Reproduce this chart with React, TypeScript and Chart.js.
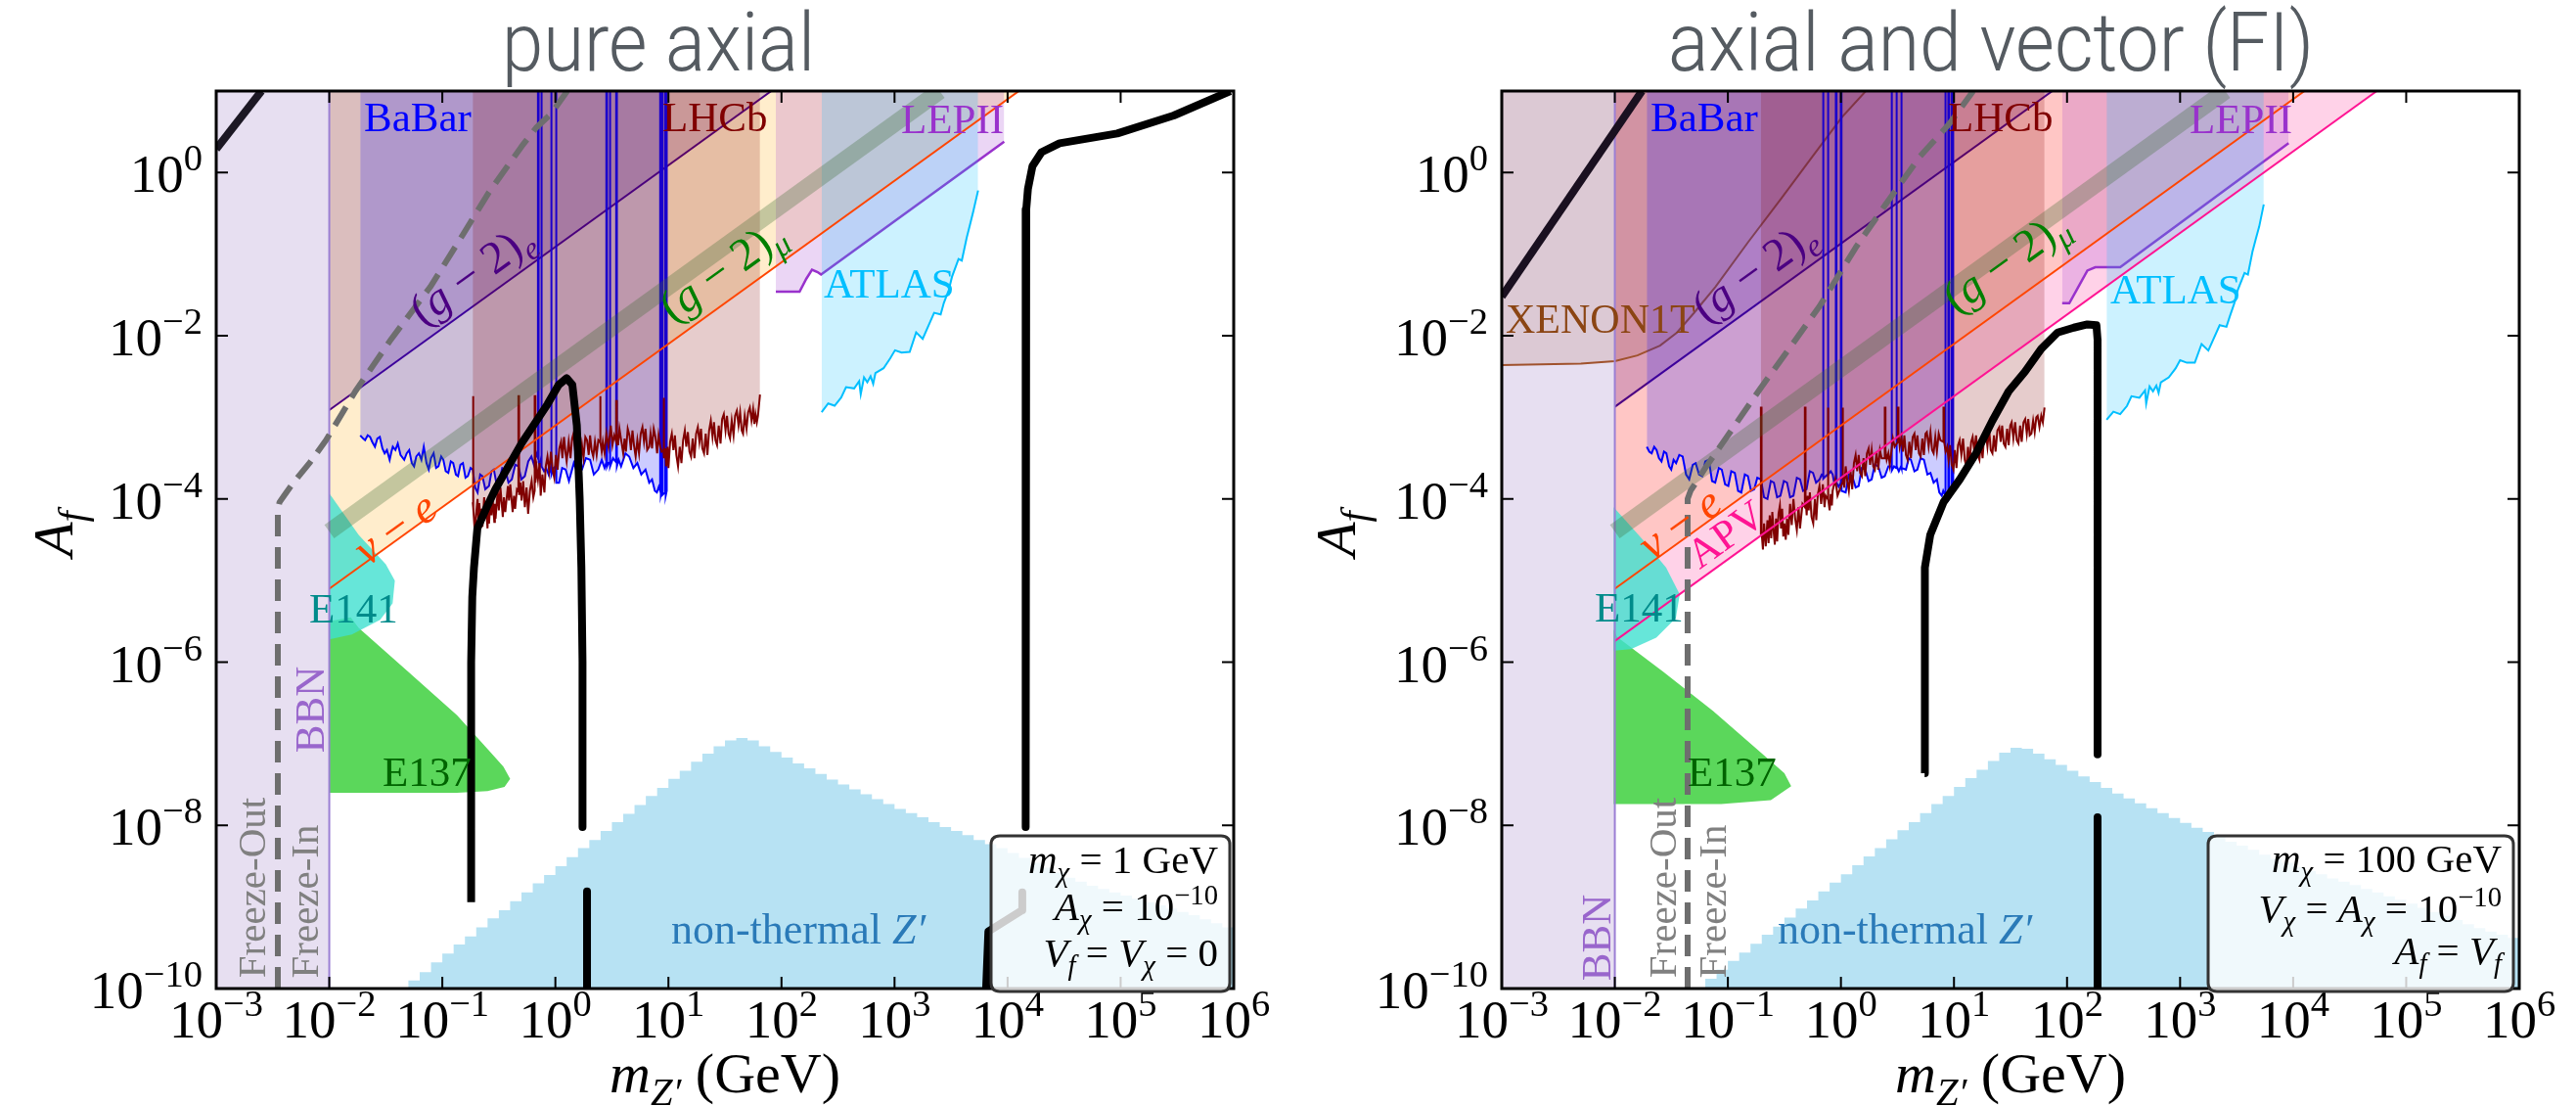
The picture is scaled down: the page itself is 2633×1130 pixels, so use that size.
import React, { useEffect, useRef } from "react";
import { Chart, registerables } from "chart.js";

Chart.register(...registerables);

type Pair = [number, number];

// ---------------- axes (log10 exponents) ----------------
const X_MIN = 1e-3;
const X_MAX = 1e6;
const Y_MIN = 1e-10;
const Y_MAX = 10;
const X_TICK_EXP = [-3, -2, -1, 0, 1, 2, 3, 4, 5, 6];
const Y_TICK_EXP = [-10, -8, -6, -4, -2, 0];

// ---------------- data: [log10 m_Z', log10 A_f] ----------------
const BBN_COL: Pair[] = [[-3, -10], [-2, -10]];
const BBN_EDGE: Pair[] = [[-2, -10], [-2, 1]];
const NUE_LINE: Pair[] = [[-2, -5.1], [4.1, 1]];
const G2MU_BAND: Pair[] = [[-2, -4.4], [3.4, 1]];
const L_G2E: Pair[] = [[-2, -2.91], [1.91, 1]];
const R_G2E: Pair[] = [[-2, -2.87], [1.87, 1]];
const R_APV: Pair[] = [[-2, -5.74], [4.74, 1]];

const L_LEP: Pair[] = [[1.95, -1.46], [2.16, -1.46], [2.22, -1.3], [2.27, -1.19], [2.32, -1.22], [2.35, -1.25], [3.97, 0.38]];
const R_LEP: Pair[] = [[1.957, -1.6], [2.02, -1.6], [2.1, -1.4], [2.18, -1.2], [2.25, -1.16], [2.47, -1.16], [3.96, 0.36]];

const L_ATLAS: Pair[] = [
  [2.355, -2.937], [2.413, -2.829], [2.47, -2.857], [2.528, -2.757], [2.571, -2.629], [2.643, -2.645], [2.687, -2.557],
  [2.701, -2.717], [2.73, -2.509], [2.759, -2.569], [2.788, -2.497], [2.811, -2.589], [2.831, -2.457], [2.903, -2.397],
  [2.961, -2.277], [3.004, -2.177], [3.062, -2.205], [3.134, -2.197], [3.191, -1.958], [3.249, -2.038], [3.35, -1.718],
  [3.408, -1.738], [3.436, -1.598], [3.48, -1.438], [3.508, -1.278], [3.566, -1.058], [3.595, -1.078], [3.638, -0.799],
  [3.667, -0.639], [3.696, -0.479], [3.739, -0.219],
];
const R_ATLAS: Pair[] = [
  [2.35, -3.03], [2.41, -2.93], [2.47, -2.96], [2.53, -2.86], [2.57, -2.74], [2.64, -2.76], [2.69, -2.67], [2.7, -2.83],
  [2.73, -2.62], [2.76, -2.68], [2.79, -2.61], [2.81, -2.7], [2.83, -2.57], [2.9, -2.51], [2.96, -2.4], [3.0, -2.3],
  [3.06, -2.33], [3.13, -2.33], [3.19, -2.1], [3.25, -2.18], [3.35, -1.87], [3.41, -1.89], [3.44, -1.76], [3.48, -1.6],
  [3.51, -1.44], [3.57, -1.23], [3.6, -1.25], [3.64, -0.97], [3.67, -0.81], [3.7, -0.66], [3.74, -0.39],
];

const L_BABAR: Pair[] = [
  [-1.726, -3.22], [-1.7, -3.26], [-1.683, -3.28], [-1.66, -3.22], [-1.639, -3.24], [-1.62, -3.3], [-1.596, -3.36], [-1.575, -3.26],
  [-1.553, -3.24], [-1.53, -3.38], [-1.51, -3.44], [-1.49, -3.4], [-1.466, -3.52], [-1.45, -3.42], [-1.438, -3.36], [-1.415, -3.4],
  [-1.394, -3.32], [-1.37, -3.46], [-1.337, -3.52], [-1.315, -3.44], [-1.293, -3.4], [-1.27, -3.56], [-1.25, -3.6], [-1.23, -3.48],
  [-1.207, -3.44], [-1.185, -3.52], [-1.164, -3.36], [-1.14, -3.56], [-1.12, -3.64], [-1.1, -3.5], [-1.077, -3.44], [-1.055, -3.62],
  [-1.034, -3.6], [-1.01, -3.48], [-0.991, -3.52], [-0.97, -3.66], [-0.947, -3.68], [-0.925, -3.54], [-0.904, -3.56], [-0.88, -3.7],
  [-0.861, -3.72], [-0.84, -3.58], [-0.818, -3.56], [-0.795, -3.74], [-0.774, -3.72], [-0.75, -3.62], [-0.731, -3.64], [-0.71, -3.86],
  [-0.688, -3.92], [-0.665, -3.7], [-0.645, -3.72], [-0.62, -3.88], [-0.587, -3.84], [-0.565, -3.66], [-0.544, -3.64], [-0.52, -3.82],
  [-0.5, -3.8], [-0.47, -3.62], [-0.443, -3.64], [-0.415, -3.8], [-0.385, -3.76], [-0.355, -3.58], [-0.327, -3.6], [-0.3, -3.76],
  [-0.27, -3.72], [-0.24, -3.54], [-0.212, -3.48], [-0.19, -3.58], [-0.169, -3.44],
  [-0.154, -3.5], [-0.154, 1], [-0.148, 1], [-0.148, -3.55], [-0.137, -3.6],
  [-0.126, -3.5], [-0.126, 1], [-0.12, 1], [-0.12, -3.6], [-0.1, -3.66], [-0.082, -3.62], [-0.06, -3.7],
  [-0.039, -3.6], [-0.039, 1], [-0.033, 1], [-0.033, -3.7], [-0.015, -3.62],
  [0.004, -3.6], [0.004, 1], [0.01, 1], [0.01, -3.8],
  [0.033, -3.8], [0.06, -3.62], [0.091, -3.64], [0.12, -3.78], [0.163, -3.56], [0.2, -3.7], [0.235, -3.64], [0.27, -3.5],
  [0.307, -3.52], [0.34, -3.7], [0.379, -3.64], [0.41, -3.52], [0.435, -3.62],
  [0.451, -3.55], [0.451, 1], [0.457, 1], [0.457, -3.6], [0.468, -3.56],
  [0.48, -3.55], [0.48, 1], [0.486, 1], [0.486, -3.6], [0.51, -3.5],
  [0.538, -3.55], [0.538, 1], [0.544, 1], [0.544, -3.6],
  [0.56, -3.52], [0.581, -3.6], [0.62, -3.44], [0.653, -3.48], [0.69, -3.62], [0.725, -3.56], [0.76, -3.7], [0.797, -3.64],
  [0.83, -3.8], [0.855, -3.76], [0.88, -3.9], [0.898, -3.92], [0.915, -3.85],
  [0.927, -3.9], [0.927, 1], [0.933, 1], [0.933, -3.95], [0.941, -3.9], [0.941, 1], [0.947, 1], [0.947, -3.95],
  [0.97, -3.92], [0.97, 1], [0.976, 1], [0.976, -3.96], [0.985, -3.9], [0.985, 1],
];

const L_LHCB: Pair[] = [
  [-0.731, -4.04], [-0.731, -2.74], [-0.725, -2.74], [-0.725, -4.1], [-0.712, -4.42], [-0.702, -4.2], [-0.688, -4.0], [-0.68, -4.38],
  [-0.673, -4.05], [-0.66, -4.3], [-0.652, -4.12], [-0.645, -4.34], [-0.63, -3.98], [-0.622, -4.22], [-0.616, -4.06], [-0.6, -4.36],
  [-0.594, -4.1], [-0.587, -4.3], [-0.572, -3.98], [-0.565, -4.2], [-0.558, -3.94], [-0.54, -4.28], [-0.535, -4.06], [-0.529, -4.24],
  [-0.51, -3.9], [-0.5, -4.14], [-0.486, -3.86], [-0.465, -4.22], [-0.455, -3.98], [-0.443, -4.16], [-0.42, -3.84], [-0.41, -4.02],
  [-0.399, -3.82], [-0.378, -4.16], [-0.366, -3.96], [-0.356, -4.12], [-0.34, -3.88],
  [-0.327, -3.9], [-0.327, -2.74], [-0.321, -2.74], [-0.321, -3.95],
  [-0.31, -3.8], [-0.299, -4.02], [-0.285, -3.78], [-0.27, -4.1], [-0.255, -3.86], [-0.241, -4.18], [-0.225, -3.9], [-0.21, -3.78], [-0.195, -3.98],
  [-0.183, -3.9], [-0.183, -2.74], [-0.177, -2.74], [-0.177, -3.8],
  [-0.165, -3.62], [-0.154, -3.76], [-0.14, -3.56], [-0.13, -3.96], [-0.115, -3.7], [-0.097, -3.92], [-0.085, -3.6], [-0.07, -3.48],
  [-0.055, -3.66], [-0.039, -3.42], [-0.025, -3.64], [-0.01, -3.74], [0.005, -3.46], [0.019, -3.64], [0.035, -3.38], [0.05, -3.3],
  [0.062, -3.5], [0.076, -3.24], [0.09, -3.44], [0.1, -3.54], [0.118, -3.3], [0.134, -3.5], [0.148, -3.26], [0.16, -3.2],
  [0.176, -3.42], [0.192, -3.18], [0.205, -3.38], [0.22, -3.54], [0.235, -3.34], [0.249, -3.5], [0.265, -3.24], [0.28, -3.28],
  [0.295, -3.46], [0.307, -3.22], [0.32, -3.4], [0.335, -3.48], [0.35, -3.3], [0.365, -3.46], [0.38, -3.28],
  [0.394, -3.3], [0.394, -2.74], [0.4, -2.74], [0.4, -3.3],
  [0.41, -3.42], [0.42, -3.3], [0.435, -3.44], [0.451, -3.2], [0.47, -3.36], [0.49, -3.1], [0.505, -3.34], [0.52, -3.22],
  [0.538, -3.3], [0.538, -2.8], [0.544, -2.8], [0.544, -3.2],
  [0.555, -3.34], [0.567, -3.14], [0.584, -3.3], [0.6, -3.44], [0.612, -3.26], [0.624, -3.42], [0.64, -3.14], [0.655, -3.22],
  [0.668, -3.4], [0.682, -3.16], [0.695, -3.34], [0.71, -3.48], [0.725, -3.28], [0.74, -3.44], [0.755, -3.2], [0.77, -3.12],
  [0.784, -3.3], [0.797, -3.14], [0.812, -3.4], [0.83, -3.36], [0.842, -3.2], [0.855, -3.38], [0.87, -3.14], [0.885, -3.24],
  [0.9, -3.44], [0.913, -3.22], [0.928, -3.36], [0.94, -3.42],
  [0.956, -3.4], [0.956, -2.76], [0.962, -2.76], [0.962, -3.5],
  [0.972, -3.38], [0.98, -3.6], [0.992, -3.36], [1.0, -3.62], [1.015, -3.3], [1.03, -3.2], [1.044, -3.4], [1.057, -3.22],
  [1.07, -3.46], [1.085, -3.6], [1.1, -3.36], [1.115, -3.56], [1.13, -3.28], [1.145, -3.16], [1.158, -3.36], [1.172, -3.18],
  [1.186, -3.42], [1.2, -3.48], [1.215, -3.26], [1.23, -3.5], [1.245, -3.2], [1.26, -3.12], [1.274, -3.3], [1.288, -3.14],
  [1.3, -3.38], [1.315, -3.44], [1.33, -3.2], [1.345, -3.46], [1.36, -3.16], [1.375, -3.04], [1.39, -3.24], [1.403, -3.06],
  [1.416, -3.28], [1.43, -3.34], [1.445, -3.1], [1.461, -3.32], [1.475, -3.02], [1.49, -2.96], [1.505, -3.16], [1.518, -2.98],
  [1.532, -3.2], [1.545, -3.26], [1.56, -3.04], [1.576, -3.22], [1.59, -2.98], [1.605, -2.92], [1.62, -3.1], [1.634, -2.94],
  [1.648, -3.16], [1.66, -3.2], [1.675, -2.98], [1.691, -3.14], [1.705, -2.94], [1.72, -2.88], [1.735, -3.04], [1.749, -2.9],
  [1.76, -3.08], [1.77, -2.96], [1.782, -3.06], [1.792, -2.98], [1.81, -2.72],
];

const R_BABAR: Pair[] = [
  [-1.717, -3.36], [-1.695, -3.42], [-1.674, -3.44], [-1.652, -3.36], [-1.631, -3.4], [-1.61, -3.5], [-1.587, -3.54], [-1.565, -3.42],
  [-1.544, -3.44], [-1.52, -3.6], [-1.501, -3.64], [-1.48, -3.52], [-1.458, -3.56], [-1.43, -3.46], [-1.4, -3.48], [-1.37, -3.7],
  [-1.342, -3.76], [-1.31, -3.58], [-1.285, -3.56], [-1.255, -3.7], [-1.227, -3.72], [-1.2, -3.54], [-1.169, -3.52], [-1.14, -3.78],
  [-1.112, -3.8], [-1.08, -3.62], [-1.054, -3.64], [-1.025, -3.82], [-0.996, -3.84], [-0.97, -3.66], [-0.939, -3.68], [-0.91, -3.9],
  [-0.881, -3.92], [-0.85, -3.7], [-0.823, -3.72], [-0.795, -3.9], [-0.766, -3.88], [-0.74, -3.74], [-0.708, -3.76], [-0.68, -3.98],
  [-0.65, -4.0], [-0.62, -3.78], [-0.593, -3.8], [-0.565, -3.98], [-0.535, -3.96], [-0.505, -3.78], [-0.477, -3.8], [-0.45, -3.98],
  [-0.42, -3.96], [-0.39, -3.74], [-0.362, -3.76], [-0.335, -3.9], [-0.304, -3.88], [-0.275, -3.66], [-0.247, -3.68], [-0.22, -3.8],
  [-0.189, -3.76], [-0.17, -3.7],
  [-0.16, -3.7], [-0.16, 1], [-0.154, 1], [-0.154, -3.75], [-0.135, -3.72],
  [-0.117, -3.7], [-0.117, 1], [-0.111, 1], [-0.111, -3.7], [-0.09, -3.66], [-0.073, -3.7], [-0.06, -3.8],
  [-0.045, -3.75], [-0.045, 1], [-0.039, 1], [-0.039, -3.8], [-0.02, -3.85],
  [-0.001, -3.8], [-0.001, 1], [0.005, 1], [0.005, -3.9],
  [0.042, -3.92], [0.07, -3.7], [0.1, -3.72], [0.13, -3.86], [0.157, -3.84], [0.185, -3.62], [0.215, -3.64], [0.245, -3.78],
  [0.272, -3.76], [0.3, -3.58], [0.33, -3.6], [0.36, -3.74], [0.388, -3.72], [0.42, -3.6],
  [0.446, -3.6], [0.446, 1], [0.452, 1], [0.452, -3.65], [0.47, -3.6],
  [0.489, -3.62], [0.489, 1], [0.495, 1], [0.495, -3.6], [0.512, -3.66],
  [0.532, -3.6], [0.532, 1], [0.538, 1], [0.538, -3.62],
  [0.575, -3.64], [0.6, -3.5], [0.619, -3.52], [0.65, -3.66], [0.676, -3.64], [0.705, -3.5], [0.734, -3.52], [0.765, -3.7],
  [0.792, -3.68], [0.82, -3.8], [0.849, -3.76], [0.87, -3.92], [0.892, -3.96], [0.905, -3.9],
  [0.921, -3.95], [0.921, 1], [0.927, 1], [0.927, -4.0], [0.95, -3.95], [0.95, 1], [0.956, 1], [0.956, -4.0],
  [0.979, -3.95], [0.979, 1], [0.985, 1], [0.985, -3.9], [0.993, -3.9], [0.993, 1],
];

const R_LHCB: Pair[] = [
  [-0.708, -4.44], [-0.708, -2.88], [-0.702, -2.88], [-0.702, -4.4], [-0.69, -4.62], [-0.68, -4.3], [-0.665, -4.58], [-0.65, -4.26],
  [-0.64, -4.54], [-0.63, -4.2], [-0.617, -4.48], [-0.607, -4.16], [-0.595, -4.4], [-0.585, -4.56], [-0.574, -4.24], [-0.564, -4.52],
  [-0.552, -4.18], [-0.54, -4.08], [-0.53, -4.36], [-0.52, -4.12], [-0.51, -4.46], [-0.5, -4.3], [-0.488, -4.5], [-0.477, -4.24],
  [-0.465, -4.44], [-0.45, -4.06], [-0.435, -4.32], [-0.42, -4.0], [-0.405, -4.24], [-0.39, -4.38], [-0.375, -4.1], [-0.362, -4.36], [-0.34, -4.06],
  [-0.319, -4.1], [-0.319, -2.88], [-0.313, -2.88], [-0.313, -4.0],
  [-0.303, -4.2], [-0.295, -3.96], [-0.285, -4.14], [-0.275, -3.92], [-0.26, -4.22], [-0.245, -4.3], [-0.23, -4.0], [-0.218, -4.26],
  [-0.204, -3.94], [-0.19, -3.84], [-0.175, -4.06], [-0.16, -3.82], [-0.145, -4.1], [-0.135, -3.96],
  [-0.117, -4.0], [-0.117, -2.88], [-0.111, -2.88], [-0.111, -4.0],
  [-0.1, -4.14], [-0.09, -3.94], [-0.08, -4.08], [-0.073, -3.9], [-0.05, -3.76], [-0.03, -3.96],
  [0.013, -3.8], [0.013, -2.88], [0.019, -2.88], [0.019, -3.7],
  [0.03, -3.86], [0.042, -3.6], [0.056, -3.78], [0.07, -3.9], [0.085, -3.66], [0.1, -3.88], [0.115, -3.56], [0.13, -3.46],
  [0.144, -3.66], [0.157, -3.46], [0.17, -3.68], [0.185, -3.72], [0.2, -3.5], [0.215, -3.72], [0.23, -3.44], [0.245, -3.38],
  [0.258, -3.58], [0.272, -3.4], [0.286, -3.6], [0.3, -3.64], [0.315, -3.42], [0.33, -3.64], [0.345, -3.4], [0.36, -3.5],
  [0.388, -3.5], [0.388, -2.88], [0.394, -2.88], [0.394, -3.4],
  [0.405, -3.52], [0.42, -3.44], [0.432, -3.58], [0.446, -3.42], [0.46, -3.26], [0.475, -3.36],
  [0.503, -3.3], [0.503, -2.88], [0.509, -2.88], [0.509, -3.2],
  [0.52, -3.36], [0.535, -3.24], [0.548, -3.42], [0.561, -3.22], [0.575, -3.46], [0.59, -3.52], [0.605, -3.3], [0.619, -3.5],
  [0.635, -3.24], [0.65, -3.2], [0.662, -3.4], [0.676, -3.22], [0.69, -3.44], [0.705, -3.48], [0.72, -3.26], [0.734, -3.46],
  [0.748, -3.2], [0.76, -3.18], [0.776, -3.36], [0.792, -3.18], [0.806, -3.4], [0.82, -3.44], [0.835, -3.24], [0.849, -3.42],
  [0.865, -3.2], [0.88, -3.28],
  [0.907, -3.3], [0.907, -2.88], [0.913, -2.88], [0.913, -3.3],
  [0.926, -3.42], [0.94, -3.36], [0.952, -3.52], [0.965, -3.34], [0.98, -3.58], [0.995, -3.64], [1.008, -3.4], [1.022, -3.62],
  [1.036, -3.34], [1.05, -3.28], [1.065, -3.46], [1.08, -3.26], [1.095, -3.52], [1.11, -3.6], [1.124, -3.36], [1.138, -3.58],
  [1.152, -3.3], [1.165, -3.24], [1.18, -3.42], [1.195, -3.22], [1.21, -3.46], [1.225, -3.52], [1.238, -3.3], [1.253, -3.5],
  [1.268, -3.2], [1.28, -3.16], [1.296, -3.36], [1.311, -3.14], [1.325, -3.4], [1.34, -3.44], [1.354, -3.22], [1.368, -3.42],
  [1.384, -3.16], [1.4, -3.12], [1.413, -3.3], [1.426, -3.1], [1.44, -3.32], [1.455, -3.36], [1.47, -3.14], [1.484, -3.34],
  [1.498, -3.1], [1.51, -3.06], [1.525, -3.26], [1.541, -3.06], [1.555, -3.28], [1.57, -3.32], [1.585, -3.1], [1.599, -3.3],
  [1.615, -3.06], [1.63, -3.02], [1.644, -3.2], [1.657, -3.02], [1.67, -3.22], [1.685, -3.2], [1.7, -3.04], [1.714, -3.18],
  [1.728, -3.0], [1.74, -2.98], [1.756, -3.12], [1.772, -2.98], [1.786, -3.06], [1.801, -2.88],
];

const R_XENON: Pair[] = [
  [-3, -2.36], [-2.3, -2.34], [-2.0, -2.31], [-1.8, -2.24], [-1.6, -2.12], [-1.45, -1.96], [-1.3, -1.72],
  [-1.11, -1.4], [-0.82, -0.85], [-0.53, -0.32], [-0.25, 0.2], [0.01, 0.68], [0.22, 1.0],
];

const L_E141: Pair[] = [[-2, -3.93], [-1.74, -4.44], [-1.5, -4.8], [-1.42, -5.0], [-1.44, -5.28], [-1.55, -5.48], [-1.8, -5.66], [-2, -5.72]];
const R_E141: Pair[] = [[-2.01, -4.1], [-1.746, -4.51], [-1.547, -4.84], [-1.426, -5.17], [-1.46, -5.46], [-1.633, -5.7], [-1.858, -5.84], [-2.01, -5.86]];
const L_E137: Pair[] = [[-2, -5.5], [-1.81, -5.45], [-1.74, -5.58], [-1.3, -6.12], [-0.87, -6.65], [-0.59, -7.08], [-0.46, -7.28], [-0.4, -7.43], [-0.45, -7.53], [-0.6, -7.58], [-0.87, -7.6], [-2, -7.6]];
const R_E137: Pair[] = [[-2.01, -5.6], [-1.98, -5.69], [-1.57, -6.12], [-1.13, -6.6], [-0.69, -7.13], [-0.5, -7.36], [-0.44, -7.52], [-0.62, -7.69], [-1.06, -7.74], [-2.01, -7.74]];

const L_NT: Pair[] = [
  [-1.4, -10], [-1.3, -9.9], [-1.2, -9.8], [-1.1, -9.68], [-1.0, -9.57], [-0.9, -9.46], [-0.8, -9.36], [-0.7, -9.25], [-0.6, -9.14],
  [-0.5, -9.04], [-0.4, -8.93], [-0.3, -8.82], [-0.2, -8.71], [-0.1, -8.61], [0.0, -8.5], [0.1, -8.39], [0.2, -8.28], [0.3, -8.18],
  [0.4, -8.07], [0.5, -7.96], [0.6, -7.86], [0.7, -7.75], [0.8, -7.64], [0.9, -7.54], [1.0, -7.43], [1.1, -7.33], [1.2, -7.22],
  [1.3, -7.12], [1.4, -7.03], [1.5, -6.96], [1.6, -6.93], [1.7, -6.96], [1.8, -7.03], [1.9, -7.1], [2.0, -7.17], [2.1, -7.24],
  [2.2, -7.3], [2.3, -7.37], [2.4, -7.44], [2.5, -7.5], [2.6, -7.56], [2.7, -7.62], [2.8, -7.68], [2.9, -7.74], [3.0, -7.8],
  [3.1, -7.85], [3.2, -7.9], [3.3, -7.96], [3.4, -8.02], [3.5, -8.07], [3.6, -8.12], [3.7, -8.18], [3.8, -8.23], [3.9, -8.28],
  [4.0, -8.34], [4.1, -8.4], [4.2, -8.46], [4.3, -8.52], [4.4, -8.58], [4.5, -8.64], [4.6, -8.69], [4.7, -8.74], [4.8, -8.78],
  [4.9, -8.82], [5.0, -8.86], [5.1, -8.9], [5.2, -8.94], [5.3, -8.98], [5.4, -9.02], [5.5, -9.06], [5.6, -9.1], [5.7, -9.15],
  [5.8, -9.2], [5.9, -9.25], [6.0, -9.28],
];
const R_NT: Pair[] = [
  [-1.3, -10], [-1.2, -9.88], [-1.1, -9.77], [-1.0, -9.66], [-0.9, -9.56], [-0.8, -9.45], [-0.7, -9.34], [-0.6, -9.24], [-0.5, -9.13],
  [-0.4, -9.02], [-0.3, -8.92], [-0.2, -8.81], [-0.1, -8.7], [0.0, -8.6], [0.1, -8.49], [0.2, -8.38], [0.3, -8.28], [0.4, -8.17],
  [0.5, -8.06], [0.6, -7.96], [0.7, -7.85], [0.8, -7.74], [0.9, -7.64], [1.0, -7.53], [1.1, -7.42], [1.2, -7.32], [1.3, -7.21],
  [1.4, -7.11], [1.5, -7.05], [1.6, -7.06], [1.7, -7.12], [1.8, -7.19], [1.9, -7.26], [2.0, -7.33], [2.1, -7.4], [2.2, -7.47],
  [2.3, -7.54], [2.4, -7.61], [2.5, -7.67], [2.6, -7.73], [2.7, -7.79], [2.8, -7.85], [2.9, -7.91], [3.0, -7.97], [3.1, -8.03],
  [3.2, -8.08], [3.3, -8.14], [3.4, -8.2], [3.5, -8.25], [3.6, -8.3], [3.7, -8.36], [3.8, -8.41], [3.9, -8.46], [4.0, -8.51],
  [4.1, -8.56], [4.2, -8.6], [4.3, -8.65], [4.4, -8.69], [4.5, -8.73], [4.6, -8.78], [4.7, -8.82], [4.8, -8.87], [4.9, -8.91],
  [5.0, -8.96], [5.1, -9.01], [5.2, -9.06], [5.3, -9.11], [5.4, -9.16], [5.5, -9.21], [5.6, -9.26], [5.7, -9.3], [5.8, -9.34],
  [5.9, -9.38], [6.0, -9.42],
];

const L_DASH: Pair[] = [
  [-2.455, -10], [-2.455, -4.13], [-2.44, -4.04], [-2.4, -3.96], [-2.317, -3.8], [-2.17, -3.55], [-2.029, -3.28], [-1.769, -2.68], [-1.452, -2.04],
  [-1.106, -1.4], [-0.818, -0.76], [-0.587, -0.24], [-0.299, 0.32], [-0.17, 0.55], [-0.039, 0.72], [0.105, 1.0],
];
const R_DASH: Pair[] = [
  [-1.356, -10], [-1.356, -4.0], [-1.33, -3.9], [-1.2, -3.62], [-1.05, -3.32], [-0.71, -2.64], [-0.48, -2.2], [-0.19, -1.64],
  [0.13, -0.92], [0.39, -0.4], [0.7, 0.2], [0.96, 0.6], [1.17, 1.0],
];

const L_BLACK_TOP: Pair[] = [[-3, 0.29], [-2.6, 1.0]];
const L_BLACK_U: Pair[] = [
  [-0.745, -8.94], [-0.745, -6.0], [-0.735, -5.2], [-0.72, -4.84], [-0.69, -4.36], [-0.6, -4.08], [-0.53, -3.88], [-0.3, -3.32],
  [-0.07, -2.84], [0.03, -2.6], [0.1, -2.52], [0.15, -2.6], [0.19, -3.1], [0.215, -4.0], [0.23, -4.84], [0.24, -6.0], [0.24, -8.02],
];
const L_BLACK_STUB: Pair[] = [[0.28, -8.81], [0.28, -10]];
const L_BLACK_RIGHT: Pair[] = [[5.97, 1.0], [5.47, 0.7], [4.97, 0.48], [4.46, 0.36], [4.3, 0.25], [4.22, 0.08], [4.18, -0.2], [4.165, -0.45], [4.16, -8.02]];
const L_BLACK_LOW: Pair[] = [[4.13, -8.82], [4.13, -9.04], [3.83, -9.3], [3.81, -10]];

const R_BLACK_TOP: Pair[] = [[-3, -1.52], [-1.76, 1.0]];
const R_BLACK_U: Pair[] = [
  [0.74, -7.36], [0.74, -5.3], [0.745, -4.84], [0.79, -4.44], [0.907, -4.04], [1.051, -3.76], [1.195, -3.44], [1.34, -3.04],
  [1.484, -2.68], [1.628, -2.44], [1.772, -2.16], [1.916, -1.96], [2.06, -1.9], [2.18, -1.86], [2.26, -1.87], [2.27, -2.05], [2.27, -7.13],
];
const R_BLACK_LOW: Pair[] = [[2.27, -7.9], [2.27, -10]];

// ---------------- helpers ----------------
const toXY = (p: Pair[]) => p.map(([a, b]) => ({ x: Math.pow(10, a), y: Math.pow(10, b) }));
const SERIF = '"Liberation Serif", "Times New Roman", serif';

type Seg = { t: string; i?: boolean; s?: "sub" | "sup" };
type Label = { segs: Seg[]; x: number; y: number; fs: number; color: string; align?: "left" | "center" | "right"; rot?: "line" | "vert" };

function drawSegs(ctx: CanvasRenderingContext2D, segs: Seg[], x: number, y: number, fs: number, color: string, align: string) {
  const parts = segs.map((sg) => {
    const size = sg.s ? fs * 0.7 : fs;
    const font = `${sg.i ? "italic " : ""}${size}px ${SERIF}`;
    ctx.font = font;
    return { t: sg.t, font, w: ctx.measureText(sg.t).width, dy: sg.s === "sup" ? -fs * 0.4 : sg.s === "sub" ? fs * 0.22 : 0 };
  });
  const total = parts.reduce((s, p) => s + p.w, 0);
  let cx = align === "left" ? x : align === "center" ? x - total / 2 : x - total;
  ctx.fillStyle = color;
  ctx.textAlign = "left";
  ctx.textBaseline = "alphabetic";
  for (const p of parts) {
    ctx.font = p.font;
    ctx.fillText(p.t, cx, y + p.dy);
    cx += p.w;
  }
  return total;
}

const G2E = (): Seg[] => [{ t: "(" }, { t: "g", i: true }, { t: " − 2)" }, { t: "e", i: true, s: "sub" }];
const G2MU = (): Seg[] => [{ t: "(" }, { t: "g", i: true }, { t: " − 2)" }, { t: "μ", i: true, s: "sub" }];
const NUE = (): Seg[] => [{ t: "ν", i: true }, { t: " − " }, { t: "e", i: true }];
const NT = (): Seg[] => [{ t: "non-thermal " }, { t: "Z′", i: true }];

interface PanelCfg {
  ox: number;
  w: number;
  pad: { left: number; right: number; top: number; bottom: number };
  title: string;
  titleX0: number;
  titleX1: number;
  yLabelX: number;
  labels: Label[];
  box: [number, number, number, number];
  boxRight: number;
  boxLines: { segs: Seg[]; y: number }[];
  datasets: () => any[];
}

function buildList(items: any[]) {
  return items.map((d, i) => ({
    pointRadius: 0,
    pointHoverRadius: 0,
    tension: 0,
    clip: 0,
    order: items.length - i,
    ...d,
  }));
}
const fillDs = (pts: Pair[], color: string, fill: any = "end", extra: any = {}) => ({
  data: toXY(pts), fill, backgroundColor: color, borderColor: "rgba(0,0,0,0)", borderWidth: 0, ...extra,
});
const lineDs = (pts: Pair[], color: string, width: number, extra: any = {}) => ({
  data: toXY(pts), fill: false, borderColor: color, borderWidth: width, borderJoinStyle: "round", ...extra,
});

const C = {
  bbn: "rgba(120,80,180,0.18)",
  bbnEdge: "#9b7fd4",
  nue: "rgba(255,165,0,0.2)",
  nueLine: "#ff4500",
  g2e: "rgba(75,0,130,0.2)",
  g2eLine: "#4b0082",
  apv: "rgba(255,105,180,0.3)",
  apvLine: "#ff1493",
  xenon: "rgba(160,82,45,0.15)",
  xenonLine: "#a0522d",
  babar: "rgba(0,0,255,0.2)",
  babarLine: "#0000ff",
  lhcb: "rgba(128,0,0,0.2)",
  lhcbLine: "#800000",
  lep: "rgba(153,50,204,0.2)",
  lepLine: "#9932cc",
  atlas: "rgba(0,191,255,0.2)",
  atlasLine: "#00bfff",
  e137: "rgba(50,205,50,0.8)",
  e141: "rgba(64,224,208,0.8)",
  nt: "rgba(135,206,235,0.6)",
  g2mu: "rgba(60,105,50,0.3)",
  dash: "#6e6e6e",
};

const FS_LBL = 43;
const FS_MATH = 47;

const LEFT: PanelCfg = {
  ox: 0,
  w: 1300,
  pad: { left: 221, right: 39, top: 93, bottom: 120 },
  title: "pure axial",
  titleX0: 513,
  titleX1: 833,
  yLabelX: 55,
  labels: [
    { segs: [{ t: "BaBar" }], x: 372, y: 134, fs: FS_LBL, color: "#0000ff", align: "left" },
    { segs: [{ t: "LHCb" }], x: 677, y: 134, fs: FS_LBL, color: "#800000", align: "left" },
    { segs: [{ t: "LEPII" }], x: 921, y: 136, fs: FS_LBL, color: "#9932cc", align: "left" },
    { segs: [{ t: "ATLAS" }], x: 842, y: 304, fs: FS_LBL, color: "#00bfff", align: "left" },
    { segs: G2E(), x: 482, y: 280, fs: FS_MATH, color: "#4b0082", rot: "line" },
    { segs: G2MU(), x: 738, y: 276, fs: FS_MATH, color: "#008000", rot: "line" },
    { segs: NUE(), x: 404, y: 540, fs: FS_MATH, color: "#ff4500", rot: "line" },
    { segs: [{ t: "E141" }], x: 316, y: 636, fs: FS_LBL, color: "#008b8b", align: "left" },
    { segs: [{ t: "E137" }], x: 391, y: 803, fs: FS_LBL, color: "#006400", align: "left" },
    { segs: [{ t: "BBN" }], x: 317, y: 725, fs: FS_LBL, color: "#9966cc", rot: "vert" },
    { segs: [{ t: "Freeze-Out" }], x: 258, y: 907, fs: 41, color: "#808080", rot: "vert" },
    { segs: [{ t: "Freeze-In" }], x: 312, y: 921, fs: 41, color: "#808080", rot: "vert" },
    { segs: NT(), x: 816, y: 964, fs: 44, color: "#2a7ab8", align: "center" },
  ],
  box: [1013, 854, 1257, 1013],
  boxRight: 1245,
  boxLines: [
    { segs: [{ t: "m", i: true }, { t: "χ", i: true, s: "sub" }, { t: " = 1 GeV" }], y: 892 },
    { segs: [{ t: "A", i: true }, { t: "χ", i: true, s: "sub" }, { t: " = 10" }, { t: "−10", s: "sup" }], y: 940 },
    { segs: [{ t: "V", i: true }, { t: "f", i: true, s: "sub" }, { t: " = " }, { t: "V", i: true }, { t: "χ", i: true, s: "sub" }, { t: " = 0" }], y: 987 },
  ],
  datasets: () =>
    buildList([
      fillDs(BBN_COL, C.bbn),
      fillDs(NUE_LINE, C.nue),
      { ...fillDs(L_G2E, C.g2e), borderColor: C.g2eLine, borderWidth: 2 },
      { ...fillDs(L_BABAR, C.babar), borderColor: C.babarLine, borderWidth: 2 },
      { ...fillDs(L_LHCB, C.lhcb), borderColor: C.lhcbLine, borderWidth: 2 },
      { ...fillDs(L_LEP, C.lep), borderColor: C.lepLine, borderWidth: 2.5 },
      { ...fillDs(L_ATLAS, C.atlas), borderColor: C.atlasLine, borderWidth: 2 },
      fillDs(L_E137, C.e137, "shape"),
      fillDs(L_E141, C.e141, "shape"),
      fillDs(L_NT, C.nt, "start", { stepped: "before" }),
      lineDs(NUE_LINE, C.nueLine, 2),
      lineDs(BBN_EDGE, C.bbnEdge, 2),
      lineDs(G2MU_BAND, C.g2mu, 17, { borderCapStyle: "butt" }),
      lineDs(L_DASH, C.dash, 6, { borderDash: [22, 11] }),
      lineDs(L_BLACK_TOP, "#1c1824", 8),
      lineDs(L_BLACK_U, "#000", 8),
      lineDs(L_BLACK_STUB, "#000", 8),
      lineDs(L_BLACK_RIGHT, "#000", 8),
      lineDs(L_BLACK_LOW, "#000", 8),
    ]),
};

const RIGHT: PanelCfg = {
  ox: 1300,
  w: 1333,
  pad: { left: 235, right: 58, top: 93, bottom: 120 },
  title: "axial and vector (FI)",
  titleX0: 1705,
  titleX1: 2365,
  yLabelX: 1366,
  labels: [
    { segs: [{ t: "BaBar" }], x: 1687, y: 134, fs: FS_LBL, color: "#0000ff", align: "left" },
    { segs: [{ t: "LHCb" }], x: 1991, y: 134, fs: FS_LBL, color: "#800000", align: "left" },
    { segs: [{ t: "LEPII" }], x: 2238, y: 136, fs: FS_LBL, color: "#9932cc", align: "left" },
    { segs: [{ t: "ATLAS" }], x: 2157, y: 310, fs: FS_LBL, color: "#00bfff", align: "left" },
    { segs: [{ t: "XENON1T" }], x: 1539, y: 340, fs: 42, color: "#8b4513", align: "left" },
    { segs: G2E(), x: 1793, y: 277, fs: FS_MATH, color: "#4b0082", rot: "line" },
    { segs: G2MU(), x: 2050, y: 267, fs: FS_MATH, color: "#008000", rot: "line" },
    { segs: NUE(), x: 1717, y: 535, fs: FS_MATH, color: "#ff4500", rot: "line" },
    { segs: [{ t: "APV" }], x: 1764, y: 546, fs: FS_LBL, color: "#ff1493", rot: "line" },
    { segs: [{ t: "E141" }], x: 1630, y: 635, fs: FS_LBL, color: "#008b8b", align: "left" },
    { segs: [{ t: "E137" }], x: 1725, y: 803, fs: FS_LBL, color: "#006400", align: "left" },
    { segs: [{ t: "BBN" }], x: 1632, y: 958, fs: FS_LBL, color: "#9966cc", rot: "vert" },
    { segs: [{ t: "Freeze-Out" }], x: 1700, y: 907, fs: 41, color: "#808080", rot: "vert" },
    { segs: [{ t: "Freeze-In" }], x: 1751, y: 921, fs: 41, color: "#808080", rot: "vert" },
    { segs: NT(), x: 1947, y: 964, fs: 44, color: "#2a7ab8", align: "center" },
  ],
  box: [2257, 854, 2569, 1013],
  boxRight: 2557,
  boxLines: [
    { segs: [{ t: "m", i: true }, { t: "χ", i: true, s: "sub" }, { t: " = 100 GeV" }], y: 891 },
    { segs: [{ t: "V", i: true }, { t: "χ", i: true, s: "sub" }, { t: " = " }, { t: "A", i: true }, { t: "χ", i: true, s: "sub" }, { t: " = 10" }, { t: "−10", s: "sup" }], y: 942 },
    { segs: [{ t: "A", i: true }, { t: "f", i: true, s: "sub" }, { t: " = " }, { t: "V", i: true }, { t: "f", i: true, s: "sub" }], y: 985 },
  ],
  datasets: () =>
    buildList([
      fillDs(BBN_COL, C.bbn),
      fillDs(NUE_LINE, C.nue),
      fillDs(R_APV, C.apv),
      { ...fillDs(R_G2E, C.g2e), borderColor: C.g2eLine, borderWidth: 2 },
      { ...fillDs(R_XENON, C.xenon), borderColor: C.xenonLine, borderWidth: 2 },
      { ...fillDs(R_BABAR, C.babar), borderColor: C.babarLine, borderWidth: 2 },
      { ...fillDs(R_LHCB, C.lhcb), borderColor: C.lhcbLine, borderWidth: 2 },
      { ...fillDs(R_LEP, C.lep), borderColor: C.lepLine, borderWidth: 2.5 },
      { ...fillDs(R_ATLAS, C.atlas), borderColor: C.atlasLine, borderWidth: 2 },
      fillDs(R_E137, C.e137, "shape"),
      fillDs(R_E141, C.e141, "shape"),
      fillDs(R_NT, C.nt, "start", { stepped: "before" }),
      lineDs(NUE_LINE, C.nueLine, 2),
      lineDs(R_APV, C.apvLine, 2),
      lineDs(BBN_EDGE, C.bbnEdge, 2),
      lineDs(G2MU_BAND, C.g2mu, 17, { borderCapStyle: "butt" }),
      lineDs(R_DASH, C.dash, 6, { borderDash: [22, 11] }),
      lineDs(R_BLACK_TOP, "#1a1020", 8),
      lineDs(R_BLACK_U, "#000", 8),
      lineDs(R_BLACK_LOW, "#000", 8),
    ]),
};

function makeDecor(cfg: PanelCfg) {
  return {
    id: "decor",
    afterDraw(chart: any) {
      const ctx: CanvasRenderingContext2D = chart.ctx;
      const xs = chart.scales.x;
      const ys = chart.scales.y;
      const a = chart.chartArea;
      const ox = cfg.ox;
      ctx.save();

      // ticks (inward, all four sides)
      ctx.strokeStyle = "#000";
      ctx.lineWidth = 2;
      ctx.beginPath();
      for (const e of X_TICK_EXP) {
        const px = xs.getPixelForValue(Math.pow(10, e));
        ctx.moveTo(px, a.bottom);
        ctx.lineTo(px, a.bottom - 12);
        ctx.moveTo(px, a.top);
        ctx.lineTo(px, a.top + 12);
      }
      for (const e of Y_TICK_EXP) {
        const py = ys.getPixelForValue(Math.pow(10, e));
        ctx.moveTo(a.left, py);
        ctx.lineTo(a.left + 12, py);
        ctx.moveTo(a.right, py);
        ctx.lineTo(a.right - 12, py);
      }
      ctx.stroke();
      // frame
      ctx.lineWidth = 3;
      ctx.strokeRect(a.left, a.top, a.right - a.left, a.bottom - a.top);

      // tick labels
      for (const e of X_TICK_EXP) {
        const px = xs.getPixelForValue(Math.pow(10, e));
        drawSegs(ctx, [{ t: "10" }, { t: e < 0 ? "−" + -e : String(e), s: "sup" }], px, a.bottom + 50, 55, "#000", "center");
      }
      for (const e of Y_TICK_EXP) {
        const py = ys.getPixelForValue(Math.pow(10, e));
        drawSegs(ctx, [{ t: "10" }, { t: e < 0 ? "−" + -e : String(e), s: "sup" }], a.left - 14, py + 20, 55, "#000", "right");
      }

      // region labels
      const lineAng = Math.atan2(
        ys.getPixelForValue(10) - ys.getPixelForValue(1),
        xs.getPixelForValue(10) - xs.getPixelForValue(1)
      );
      for (const lb of cfg.labels) {
        const lx = lb.x - ox;
        if (lb.rot) {
          ctx.save();
          ctx.translate(lx, lb.y);
          ctx.rotate(lb.rot === "line" ? lineAng : -Math.PI / 2);
          drawSegs(ctx, lb.segs, 0, lb.fs * 0.32, lb.fs, lb.color, "center");
          ctx.restore();
        } else {
          drawSegs(ctx, lb.segs, lx, lb.y, lb.fs, lb.color, lb.align || "left");
        }
      }

      // legend box
      const [bx0, by0, bx1, by1] = cfg.box;
      const x0 = bx0 - ox, x1 = bx1 - ox, r = 9;
      ctx.beginPath();
      ctx.moveTo(x0 + r, by0);
      ctx.lineTo(x1 - r, by0);
      ctx.quadraticCurveTo(x1, by0, x1, by0 + r);
      ctx.lineTo(x1, by1 - r);
      ctx.quadraticCurveTo(x1, by1, x1 - r, by1);
      ctx.lineTo(x0 + r, by1);
      ctx.quadraticCurveTo(x0, by1, x0, by1 - r);
      ctx.lineTo(x0, by0 + r);
      ctx.quadraticCurveTo(x0, by0, x0 + r, by0);
      ctx.closePath();
      ctx.fillStyle = "rgba(255,255,255,0.8)";
      ctx.fill();
      ctx.strokeStyle = "#333";
      ctx.lineWidth = 3;
      ctx.stroke();
      for (const ln of cfg.boxLines) drawSegs(ctx, ln.segs, cfg.boxRight - ox, ln.y, 41, "#000", "right");

      // axis labels
      drawSegs(ctx, [{ t: "m", i: true }, { t: "Z′", i: true, s: "sub" }, { t: " (GeV)" }], (a.left + a.right) / 2, 1116, 58, "#000", "center");
      ctx.save();
      ctx.translate(cfg.yLabelX - ox, (a.top + a.bottom) / 2 - 6);
      ctx.rotate(-Math.PI / 2);
      drawSegs(ctx, [{ t: "A", i: true }, { t: "f", i: true, s: "sub" }], 0, 19, 58, "#000", "center");
      ctx.restore();

      // title (light sans, fitted to the measured width)
      ctx.font = '300 83px "Roboto Light", Roboto, "Open Sans", sans-serif';
      ctx.fillStyle = "#555b61";
      ctx.textAlign = "left";
      ctx.textBaseline = "alphabetic";
      const tw = ctx.measureText(cfg.title).width;
      ctx.save();
      ctx.translate(cfg.titleX0 - ox, 72);
      ctx.scale((cfg.titleX1 - cfg.titleX0) / tw, 1);
      ctx.fillText(cfg.title, 0, 0);
      ctx.restore();

      ctx.restore();
    },
  };
}

function Panel({ cfg }: { cfg: PanelCfg }) {
  const ref = useRef<HTMLCanvasElement>(null);
  useEffect(() => {
    const chart = new Chart(ref.current as HTMLCanvasElement, {
      type: "line",
      data: { datasets: cfg.datasets() },
      options: {
        animation: false,
        responsive: false,
        devicePixelRatio: 1,
        events: [],
        layout: { padding: cfg.pad },
        plugins: { legend: { display: false }, tooltip: { enabled: false } },
        scales: {
          x: { type: "logarithmic", min: X_MIN, max: X_MAX, display: false },
          y: { type: "logarithmic", min: Y_MIN, max: Y_MAX, display: false },
        },
      } as any,
      plugins: [makeDecor(cfg)],
    } as any);
    return () => chart.destroy();
  }, []);
  return (
    <canvas
      ref={ref}
      width={cfg.w}
      height={1130}
      style={{ position: "absolute", left: cfg.ox, top: 0, width: cfg.w, height: 1130 }}
    />
  );
}

export default function App() {
  return (
    <div style={{ position: "absolute", left: 0, top: 0, width: 2633, height: 1130, background: "#fff" }}>
      <Panel cfg={LEFT} />
      <Panel cfg={RIGHT} />
    </div>
  );
}
